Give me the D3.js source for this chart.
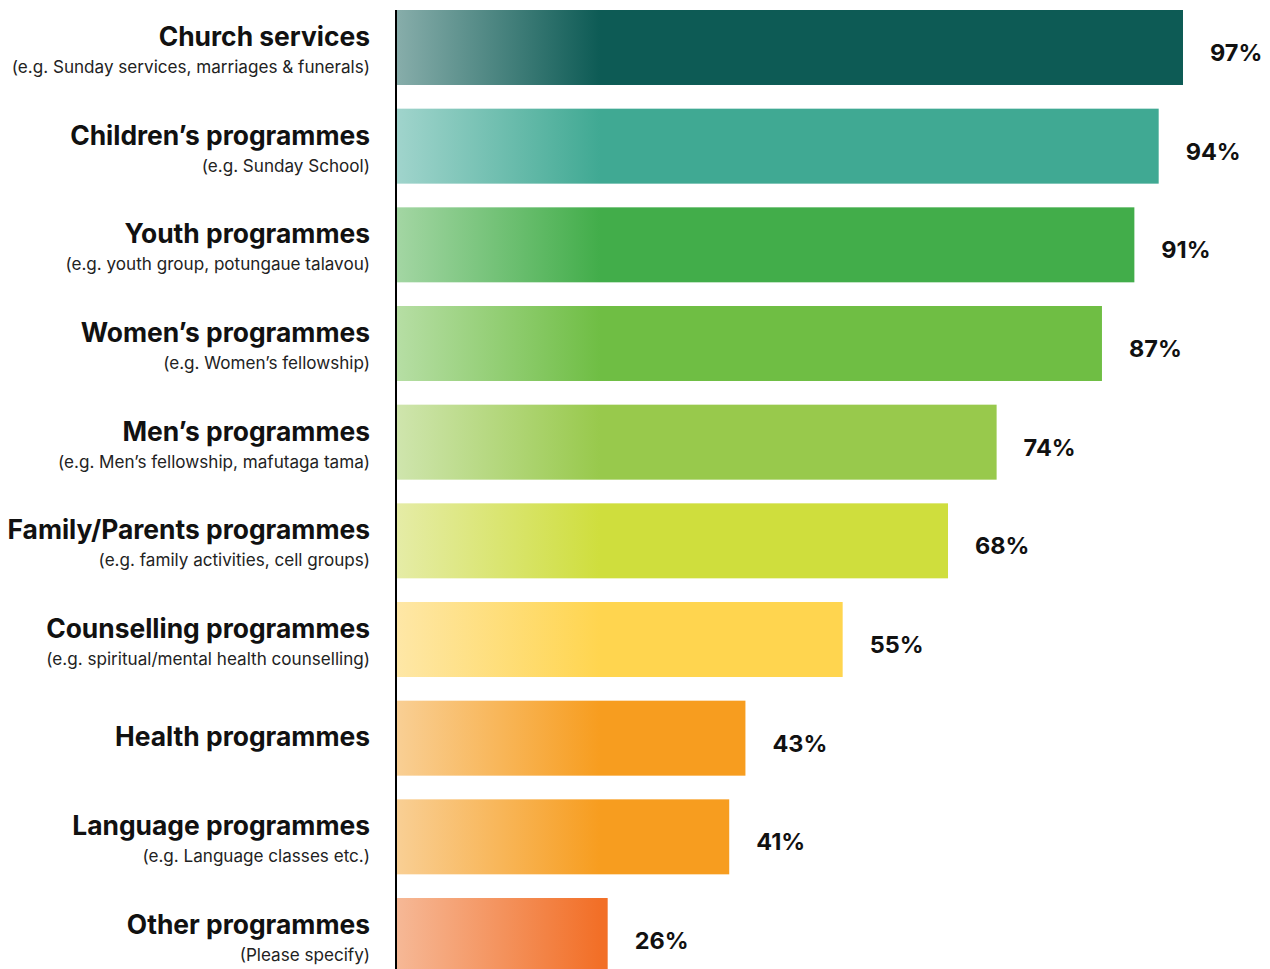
<!DOCTYPE html>
<html>
<head>
<meta charset="utf-8">
<script src="https://cdn.jsdelivr.net/npm/d3@7"></script>
<style>
  html, body { margin: 0; padding: 0; background: #fff; }
  svg { display: block; }
  text { font-family: Inter, "Noto Sans", sans-serif; }
</style>
</head>
<body>
<svg id="chart" width="1270" height="969"></svg>
<script>
// Programme categories, top to bottom
const categories = [
  "Church services",
  "Children\u2019s programmes",
  "Youth programmes",
  "Women\u2019s programmes",
  "Men\u2019s programmes",
  "Family/Parents programmes",
  "Counselling programmes",
  "Health programmes",
  "Language programmes",
  "Other programmes"
];

const subtitles = [
  "(e.g. Sunday services, marriages & funerals)",
  "(e.g. Sunday School)",
  "(e.g. youth group, potungaue talavou)",
  "(e.g. Women\u2019s fellowship)",
  "(e.g. Men\u2019s fellowship, mafutaga tama)",
  "(e.g. family activities, cell groups)",
  "(e.g. spiritual/mental health counselling)",
  "",
  "(e.g. Language classes etc.)",
  "(Please specify)"
];

// Share of churches offering each programme (%)
const values = [97, 94, 91, 87, 74, 68, 55, 43, 41, 26];

// Gradient stops per bar: pale start, full colour end
const startColors = ["#87adaa", "#a0d4cc", "#a3d6a3", "#b6dea4", "#cfe5ad", "#e5eca6", "#fee7a6", "#f9cf94", "#f9cf94", "#f6b896"];
const endColors   = ["#0d5b55", "#40a993", "#42ad4a", "#6fbe44", "#98c94c", "#cfde3d", "#ffd54f", "#f79d1f", "#f79d1f", "#f26f27"];

const svg = d3.select("#chart");
const axisX = 396;

const x = d3.scaleLinear().domain([0, 100]).range([axisX + 1, axisX + 1 + 810.3]);
const y = d3.scaleBand().domain(categories).range([10, 973]).paddingInner(0.24).paddingOuter(0);

// One horizontal gradient per bar, fading in over the first ~200px
const defs = svg.append("defs");
categories.forEach((c, i) => {
  const g = defs.append("linearGradient")
    .attr("id", "grad" + i)
    .attr("gradientUnits", "userSpaceOnUse")
    .attr("x1", x(0)).attr("x2", x(0) + 203)
    .attr("y1", 0).attr("y2", 0);
  g.append("stop").attr("offset", "0%").attr("stop-color", startColors[i]);
  g.append("stop").attr("offset", "100%").attr("stop-color", endColors[i]);
});

// Bars
svg.append("g").selectAll("rect")
  .data(categories)
  .join("rect")
  .attr("x", x(0))
  .attr("y", d => y(d))
  .attr("width", (d, i) => x(values[i]) - x(0))
  .attr("height", y.bandwidth())
  .attr("fill", (d, i) => `url(#grad${i})`);

// Vertical baseline
svg.append("line")
  .attr("x1", axisX).attr("x2", axisX)
  .attr("y1", 10).attr("y2", 969)
  .attr("stroke", "#000").attr("stroke-width", 2);

// Category titles and examples
const labels = svg.append("g").attr("text-anchor", "end");
categories.forEach((c, i) => {
  const top = y(c);
  const hasSub = subtitles[i] !== "";
  labels.append("text")
    .attr("x", 370)
    .attr("y", hasSub ? top + 36 : top + y.bandwidth() / 2 + 8)
    .attr("font-size", 26.4)
    .attr("font-weight", 700)
    .attr("fill", "#111")
    .text(c);
  if (hasSub) {
    labels.append("text")
      .attr("x", 370)
      .attr("y", top + 63)
      .attr("font-size", 17.1)
      .attr("font-weight", 400)
      .attr("fill", "#222")
      .text(subtitles[i]);
  }
});

// Value labels
svg.append("g").selectAll("text")
  .data(categories)
  .join("text")
  .attr("x", (d, i) => x(values[i]) + 27)
  .attr("y", d => y(d) + y.bandwidth() / 2 + 13.5)
  .attr("font-size", 23.5)
  .attr("font-weight", 700)
  .attr("fill", "#111")
  .text((d, i) => values[i] + "%");
</script>
</body>
</html>
